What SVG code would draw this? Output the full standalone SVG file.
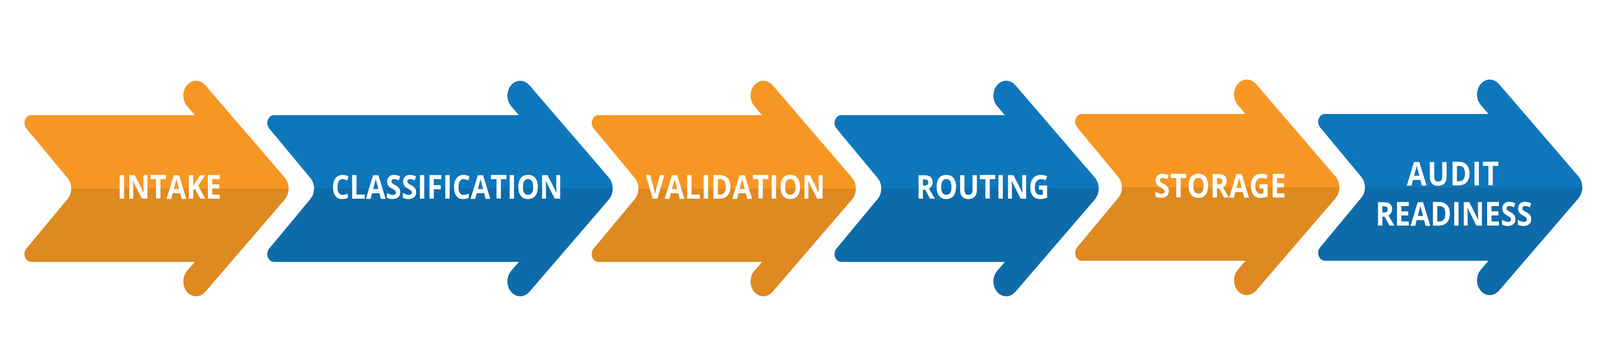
<svg xmlns="http://www.w3.org/2000/svg" width="4764" height="930" viewBox="0 0 4764 930" preserveAspectRatio="none">
  <style>
    :root { width: 100vw; height: 100vh; }
    .lbl { font-family: "Open Sans", "Liberation Sans", sans-serif; font-weight: 700; font-size: 85px; fill: #FFFFFF; text-anchor: middle; }
    .orange { fill: url(#gOrange); }
    .blue { fill: url(#gBlue); }
  </style>
  <defs>
    <linearGradient id="gOrange" x1="0" y1="0" x2="0" y2="1">
      <stop offset="0.5" stop-color="#F79723"/>
      <stop offset="0.5" stop-color="#DF8921"/>
    </linearGradient>
    <linearGradient id="gBlue" x1="0" y1="0" x2="0" y2="1">
      <stop offset="0.5" stop-color="#0E77BC"/>
      <stop offset="0.5" stop-color="#0E6BAA"/>
    </linearGradient>
    <path id="arrowStd" d="M 92.8,295 L 580,295 L 556.2,271.2 A 38.2 38.2 0 0 1 610.2,217.2 L 847.7,454.7 A 40 40 0 0 1 847.7,511.3 L 610.2,748.8 A 38.2 38.2 0 0 1 556.2,694.8 L 580,671 L 92.8,671 A 20 20 0 0 1 78.4,637.1 L 201.2,509.8 A 38.5 38.5 0 0 0 201.2,456.2 L 78.4,328.9 A 20 20 0 0 1 92.8,295 Z"/>
    <path id="arrowLong" d="M 92.8,295 L 822,295 L 798.2,271.2 A 38.2 38.2 0 0 1 852.2,217.2 L 1089.7,454.7 A 40 40 0 0 1 1089.7,511.3 L 852.2,748.8 A 38.2 38.2 0 0 1 798.2,694.8 L 822,671 L 92.8,671 A 20 20 0 0 1 78.4,637.1 L 201.2,509.8 A 38.5 38.5 0 0 0 201.2,456.2 L 78.4,328.9 A 20 20 0 0 1 92.8,295 Z"/>
  </defs>

  <g id="connectors"></g>

  <g id="intake">
    <use href="#arrowStd" class="orange"/>
    <text class="lbl" x="504" y="509" textLength="310" lengthAdjust="spacing">INTAKE</text>
  </g>

  <g id="classification">
    <use href="#arrowLong" class="blue" transform="translate(723,0)"/>
    <text class="lbl" x="1331" y="509" textLength="689" lengthAdjust="spacing">CLASSIFICATION</text>
  </g>

  <g id="validation">
    <use href="#arrowStd" class="orange" transform="translate(1689,0)"/>
    <text class="lbl" x="2190" y="509" textLength="534" lengthAdjust="spacing">VALIDATION</text>
  </g>

  <g id="routing">
    <use href="#arrowStd" class="blue" transform="translate(2412,0)"/>
    <text class="lbl" x="2926" y="509" textLength="397" lengthAdjust="spacing">ROUTING</text>
  </g>

  <g id="storage">
    <use href="#arrowStd" class="orange" transform="translate(3128.5,-3)"/>
    <text class="lbl" x="3633" y="506" textLength="393" lengthAdjust="spacing">STORAGE</text>
  </g>

  <g id="audit-readiness">
    <use href="#arrowStd" class="blue" transform="translate(3852,-3)"/>
    <text class="lbl"><tspan x="4326" y="475" textLength="274" lengthAdjust="spacing">AUDIT</tspan><tspan x="4329" y="578" textLength="467" lengthAdjust="spacing">READINESS</tspan></text>
  </g>
</svg>
